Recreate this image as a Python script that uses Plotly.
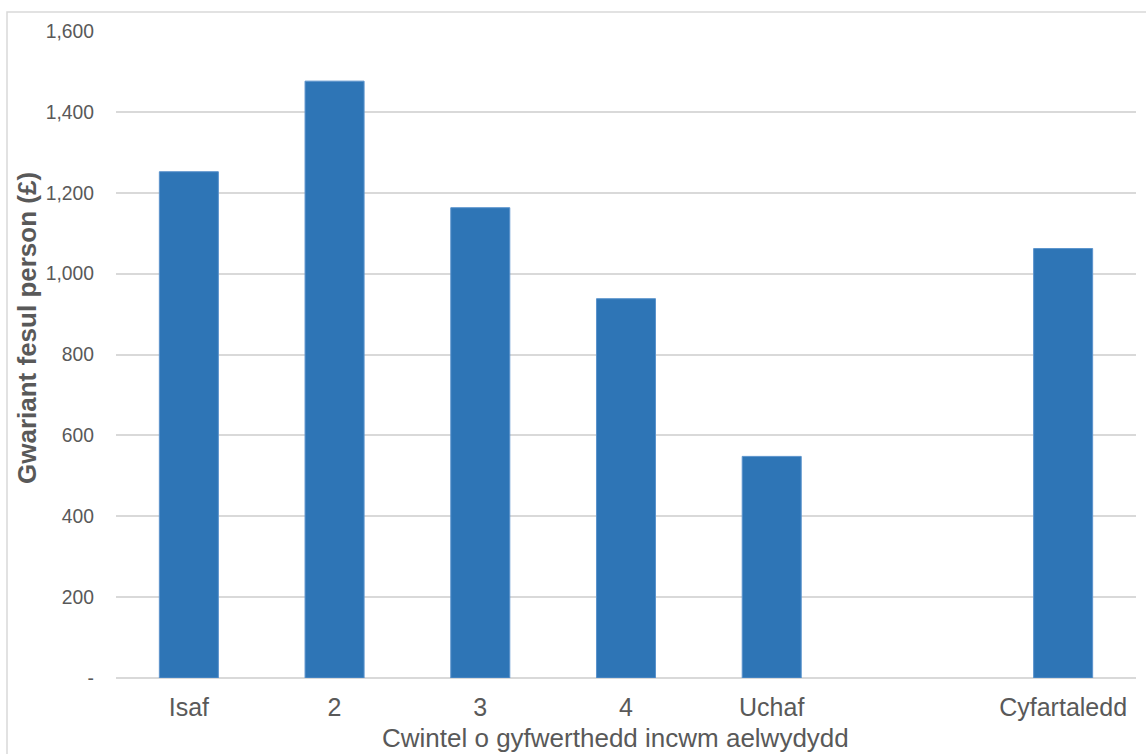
import plotly.graph_objects as go

categories = ["Isaf", "2", "3", "4", "Uchaf", " ", "Cyfartaledd"]
values = [1252, 1476, 1163, 938, 548, None, 1062]
tick_vals = [0, 200, 400, 600, 800, 1000, 1200, 1400, 1600]
tick_text = ["-", "200", "400", "600", "800", "1,000", "1,200", "1,400", "1,600"]
x_title = "Cwintel o gyfwerthedd incwm aelwydydd"
y_title = "Gwariant fesul person (£)"

W, H = 1146, 754
L, R, T, B = 116, 10, 31, 76
pw, ph = W - L - R, H - T - B

fig = go.Figure(go.Bar(
    x=categories, y=values,
    marker=dict(color="#2E75B6", line=dict(color="#5B93CC", width=1)),
    width=0.405,
))

def px2paper_x(px):
    return (px - L) / pw

def py2paper_y(py):
    return (H - B - py) / ph

fig.add_shape(type="rect", xref="paper", yref="paper",
              x0=px2paper_x(7), x1=px2paper_x(1160),
              y0=py2paper_y(770), y1=py2paper_y(12),
              line=dict(color="#D9D9D9", width=1.5), fillcolor="rgba(0,0,0,0)", layer="below")

fig.add_annotation(text=x_title, xref="paper", yref="paper",
                   x=px2paper_x(615), y=py2paper_y(738),
                   xanchor="center", yanchor="middle", showarrow=False,
                   font=dict(size=26, color="#595959"))
fig.add_annotation(text="<b>" + y_title + "</b>", xref="paper", yref="paper",
                   x=px2paper_x(27), y=py2paper_y(328), textangle=-90,
                   xanchor="center", yanchor="middle", showarrow=False,
                   font=dict(size=26, color="#595959"))

fig.update_layout(
    width=W, height=H,
    margin=dict(l=L, r=R, t=T, b=B, autoexpand=False),
    paper_bgcolor="white", plot_bgcolor="white",
    showlegend=False,
    font=dict(family="Liberation Sans, Arial, sans-serif", color="#595959"),
    xaxis=dict(
        type="category", automargin=False,
        categoryorder="array", categoryarray=categories,
        range=[-0.5, 6.5],
        showgrid=False, showline=False, zeroline=False,
        tickfont=dict(size=25, color="#595959"),
        ticks="", ticklabelstandoff=12,
    ),
    yaxis=dict(
        automargin=False,
        range=[0, 1600],
        tickvals=tick_vals, ticktext=tick_text,
        showgrid=True, gridcolor="#D9D9D9", gridwidth=1.5,
        zeroline=True, zerolinecolor="#D9D9D9", zerolinewidth=1.5,
        showline=False, ticks="", ticklabelstandoff=21,
        tickfont=dict(size=19.3, color="#595959"),
    ),
)

fig.write_html("out.html",
               config={"displayModeBar": False},
               post_script="document.body.style.margin='0';document.body.style.overflow='hidden';")
